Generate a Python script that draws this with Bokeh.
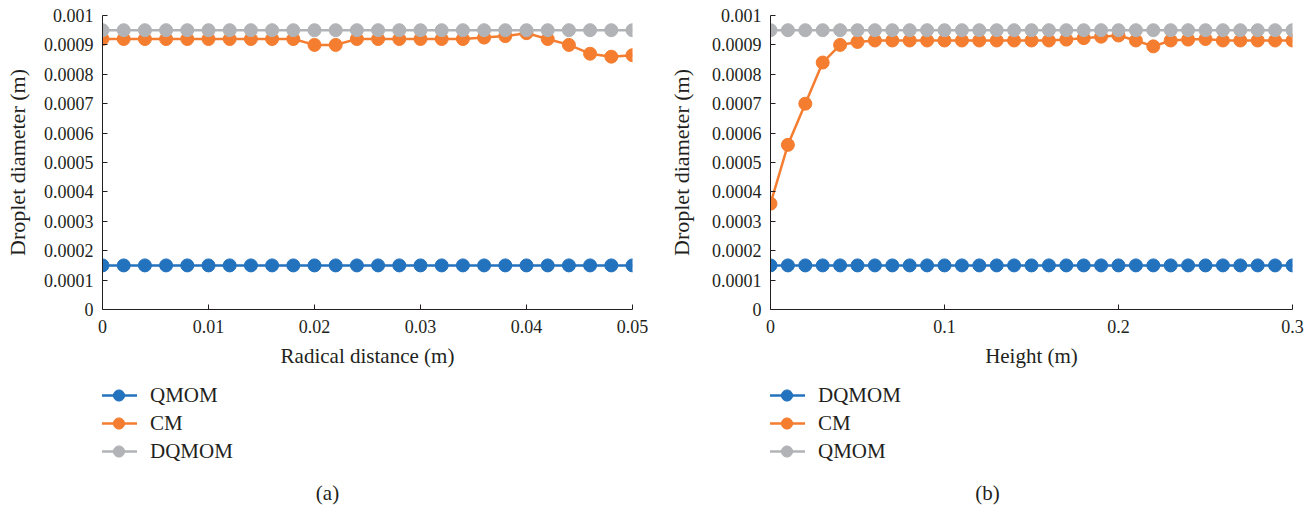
from bokeh.plotting import figure
from bokeh.models import (ColumnDataSource, Range1d, FixedTicker, CustomJSTickFormatter,
                          Legend, LegendItem, Label)
from bokeh.layouts import row, column
from bokeh.embed import file_html
from bokeh.resources import INLINE

# ---------------- data ----------------
radial_x = [0, 0.002, 0.004, 0.006, 0.008, 0.010, 0.012, 0.014, 0.016, 0.018,
            0.020, 0.022, 0.024, 0.026, 0.028, 0.030, 0.032, 0.034, 0.036, 0.038,
            0.040, 0.042, 0.044, 0.046, 0.048, 0.050]
radial_qmom = [0.00015] * 26
radial_cm = [0.00092, 0.00092, 0.00092, 0.00092, 0.00092, 0.00092, 0.00092, 0.00092, 0.00092, 0.00092,
             0.0009, 0.0009, 0.00092, 0.00092, 0.00092, 0.00092, 0.00092, 0.00092, 0.000925, 0.00093,
             0.00094, 0.00092, 0.0009, 0.00087, 0.00086, 0.000865]
radial_dqmom = [0.00095] * 26

height_x = [0, 0.01, 0.02, 0.03, 0.04, 0.05, 0.06, 0.07, 0.08, 0.09, 0.10,
            0.11, 0.12, 0.13, 0.14, 0.15, 0.16, 0.17, 0.18, 0.19, 0.20,
            0.21, 0.22, 0.23, 0.24, 0.25, 0.26, 0.27, 0.28, 0.29, 0.30]
height_dqmom = [0.00015] * 31
height_cm = [0.00036, 0.00056, 0.0007, 0.00084, 0.0009, 0.00091, 0.000915, 0.000915, 0.000915, 0.000915, 0.000915,
             0.000915, 0.000915, 0.000915, 0.000915, 0.000915, 0.000915, 0.000918, 0.000923, 0.000928, 0.000932,
             0.000915, 0.000895, 0.000915, 0.000918, 0.00092, 0.000915, 0.000915, 0.000915, 0.000915, 0.000915]
height_qmom = [0.00095] * 31

y_ticks = [0, 0.0001, 0.0002, 0.0003, 0.0004, 0.0005, 0.0006, 0.0007, 0.0008, 0.0009, 0.001]
radial_ticks = [0, 0.01, 0.02, 0.03, 0.04, 0.05]
height_ticks = [0, 0.1, 0.2, 0.3]

BLUE = "#2372BE"
ORANGE = "#F47D30"
GRAY = "#B2B3B6"
INK = "#231F20"
FONT = "Liberation Serif"

fmt_code = "return String(parseFloat(tick.toPrecision(6)));"

TOP = 15
FRAME_H = 294
MAIN_H = 372
LEG_H = 506 - MAIN_H
NAN = float("nan")


def main_panel(width, left, right, xs, series, xticks, xlabel, ylab_standoff):
    p = figure(width=width, height=MAIN_H, output_backend="svg", toolbar_location=None,
               x_range=Range1d(xticks[0], xticks[-1]), y_range=Range1d(y_ticks[0], y_ticks[-1]),
               min_border_left=left, min_border_right=right, min_border_top=TOP,
               min_border_bottom=MAIN_H - TOP - FRAME_H)
    p.outline_line_color = None
    p.xgrid.visible = False
    p.ygrid.visible = False
    for ax, ticks in ((p.xaxis[0], xticks), (p.yaxis[0], y_ticks)):
        ax.ticker = FixedTicker(ticks=ticks)
        ax.formatter = CustomJSTickFormatter(code=fmt_code)
        ax.major_tick_in = 5
        ax.major_tick_out = 0
        ax.minor_tick_line_color = None
        ax.axis_line_color = INK
        ax.major_tick_line_color = INK
        ax.major_label_text_font = FONT
        ax.major_label_text_font_size = "18px"
        ax.major_label_text_color = INK
        ax.axis_label_text_font = FONT
        ax.axis_label_text_font_style = "normal"
        ax.axis_label_text_color = INK
    p.xaxis.axis_label = xlabel
    p.yaxis.axis_label = "Droplet diameter (m)"
    p.xaxis.axis_label_text_font_size = "21px"
    p.yaxis.axis_label_text_font_size = "22px"
    p.xaxis.major_label_standoff = 10
    p.xaxis.axis_label_standoff = 8
    p.yaxis.major_label_standoff = 9
    p.yaxis.axis_label_standoff = ylab_standoff
    for ys, color in series:
        src = ColumnDataSource(dict(x=xs, y=ys))
        p.line("x", "y", source=src, line_color=color, line_width=2.5)
        p.scatter("x", "y", source=src, size=13, fill_color=color, line_color=color)
    return p


def legend_panel(width, left, right, labels_colors, caption, cap_x):
    p = figure(width=width, height=LEG_H, output_backend="svg", toolbar_location=None,
               x_range=Range1d(0, 1), y_range=Range1d(0, 1),
               x_axis_location=None, y_axis_location=None,
               min_border_left=left, min_border_right=right, min_border_top=0, min_border_bottom=0)
    p.outline_line_color = None
    p.xgrid.visible = False
    p.ygrid.visible = False
    items = []
    for lab, color in labels_colors:
        # legend proxies (NaN point: nothing is drawn in the panel itself)
        r1 = p.line(x=[NAN], y=[NAN], line_color=color, line_width=2.5)
        r2 = p.scatter(x=[NAN], y=[NAN], size=13, fill_color=color, line_color=color)
        items.append(LegendItem(label=lab, renderers=[r1, r2]))
    leg = Legend(items=items, location=(-2, 41), orientation="vertical",
                 glyph_width=37, glyph_height=28, label_height=20, spacing=0,
                 padding=0, margin=0, border_line_color=None, background_fill_alpha=0,
                 label_standoff=13, label_text_font=FONT, label_text_font_size="21px",
                 label_text_color=INK)
    p.add_layout(leg, "center")
    p.add_layout(Label(x=cap_x, y=14, x_units="screen", y_units="screen", text=caption,
                       text_align="center", text_baseline="middle",
                       text_font=FONT, text_font_size="21px", text_color=INK))
    return p


pa = main_panel(660, 102, 28, radial_x,
                [(radial_qmom, BLUE), (radial_cm, ORANGE), (radial_dqmom, GRAY)],
                radial_ticks, "Radical distance (m)", 11)
pb = main_panel(656, 110, 24, height_x,
                [(height_dqmom, BLUE), (height_cm, ORANGE), (height_qmom, GRAY)],
                height_ticks, "Height (m)", 15)
la = legend_panel(660, 102, 28, [("QMOM", BLUE), ("CM", ORANGE), ("DQMOM", GRAY)], "(a)", 225)
lb = legend_panel(656, 110, 24, [("DQMOM", BLUE), ("CM", ORANGE), ("QMOM", GRAY)], "(b)", 217)

layout = row(column(pa, la), column(pb, lb))
open("out.html", "w").write(file_html(layout, INLINE))
